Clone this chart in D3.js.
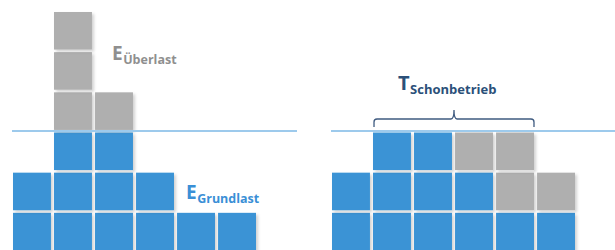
<!DOCTYPE html>
<html>
<head>
<meta charset="utf-8">
<script src="https://cdn.jsdelivr.net/npm/d3@7"></script>
<style>
html,body{margin:0;padding:0;background:#fff;}
svg{display:block;}
</style>
</head>
<body>
<script>
// Data: number of blocks per column
const columns = [0, 1, 2, 3, 4, 5];
const leftBase = [2, 3, 3, 2, 1, 1];      // E Grundlast (blue)
const leftOver = [0, 3, 1, 0, 0, 0];      // E Überlast (grey)
const rightBase = [2, 3, 3, 2, 1, 1];     // blue
const rightOver = [0, 0, 0, 1, 2, 1];     // grey (shifted load)
const limitLevel = 3;
const labels = {over: ["E", "Überlast"], base: ["E", "Grundlast"], t: ["T", "Schonbetrieb"]};

const W = 615, H = 250;
const blue = "#3a93d5", grey = "#afafaf", lineCol = "#9dcaec";

const svg = d3.select("body").append("svg").attr("width", W).attr("height", H);
const defs = svg.append("defs");
const f = defs.append("filter").attr("id", "sh").attr("x", "-20%").attr("y", "-20%").attr("width", "150%").attr("height", "150%");
f.append("feDropShadow").attr("dx", 2).attr("dy", 2).attr("stdDeviation", 1.5)
  .attr("flood-color", "#000").attr("flood-opacity", 0.18);

const y = d3.scaleLinear().domain([0, 6]).range([253, 12]);
const gap = 2.6;

function panel(x0, x1, base, over) {
  const x = d3.scaleBand().domain(columns).range([x0, x1]).paddingInner(0.075).paddingOuter(0);
  const cells = [];
  columns.forEach(c => {
    for (let k = 0; k < base[c]; k++) cells.push({c, k, col: blue});
    for (let k = 0; k < over[c]; k++) cells.push({c, k: base[c] + k, col: grey});
  });
  svg.append("g").selectAll("rect").data(cells).join("rect")
    .attr("x", d => x(d.c))
    .attr("y", d => y(d.k + 1))
    .attr("width", x.bandwidth())
    .attr("height", y(d => 0) - y(1) - gap)
    .attr("height", (y(0) - y(1)) - gap)
    .attr("fill", d => d.col)
    .attr("filter", "url(#sh)");
  return x;
}

const xL = panel(13, 256, leftBase, leftOver);
const xR = panel(332, 575, rightBase, rightOver);

const ly = y(limitLevel) - 1.6;
svg.append("line").attr("x1", 12).attr("x2", 297).attr("y1", ly).attr("y2", ly)
  .attr("stroke", lineCol).attr("stroke-width", 2);
svg.append("line").attr("x1", 331).attr("x2", 615).attr("y1", ly).attr("y2", ly)
  .attr("stroke", lineCol).attr("stroke-width", 2);

// brace
const bx0 = xR(1) + 1, bx1 = xR(4) + xR.bandwidth(), bm = (bx0 + bx1) / 2;
const bb = 127, bt = 119, bp = 110, r = 3;
const brace = `M${bx0},${bb} L${bx0},${bt + r} Q${bx0},${bt} ${bx0 + r},${bt} L${bm - 3},${bt} Q${bm},${bt} ${bm},${bp} Q${bm},${bt} ${bm + 3},${bt} L${bx1 - r},${bt} Q${bx1},${bt} ${bx1},${bt + r} L${bx1},${bb}`;
svg.append("path").attr("d", brace).attr("fill", "none").attr("stroke", "#3f5b80").attr("stroke-width", 1.3);

function label(x, yb, parts, color, big, small, dy) {
  const t = svg.append("text").attr("x", x).attr("y", yb)
    .attr("font-family", "'Open Sans', sans-serif").attr("font-weight", 700).attr("fill", color);
  t.append("tspan").attr("font-size", big).text(parts[0]);
  t.append("tspan").attr("font-size", small).attr("dy", dy).attr("dx", 0.5).text(parts[1]);
}
label(112, 60, labels.over, "#8f8f8f", 19, 12.5, 4);
label(186, 199, labels.base, "#3a8fd6", 19, 12.5, 4);
label(398, 90, labels.t, "#2b5079", 20, 13, 4);
</script>
</body>
</html>
